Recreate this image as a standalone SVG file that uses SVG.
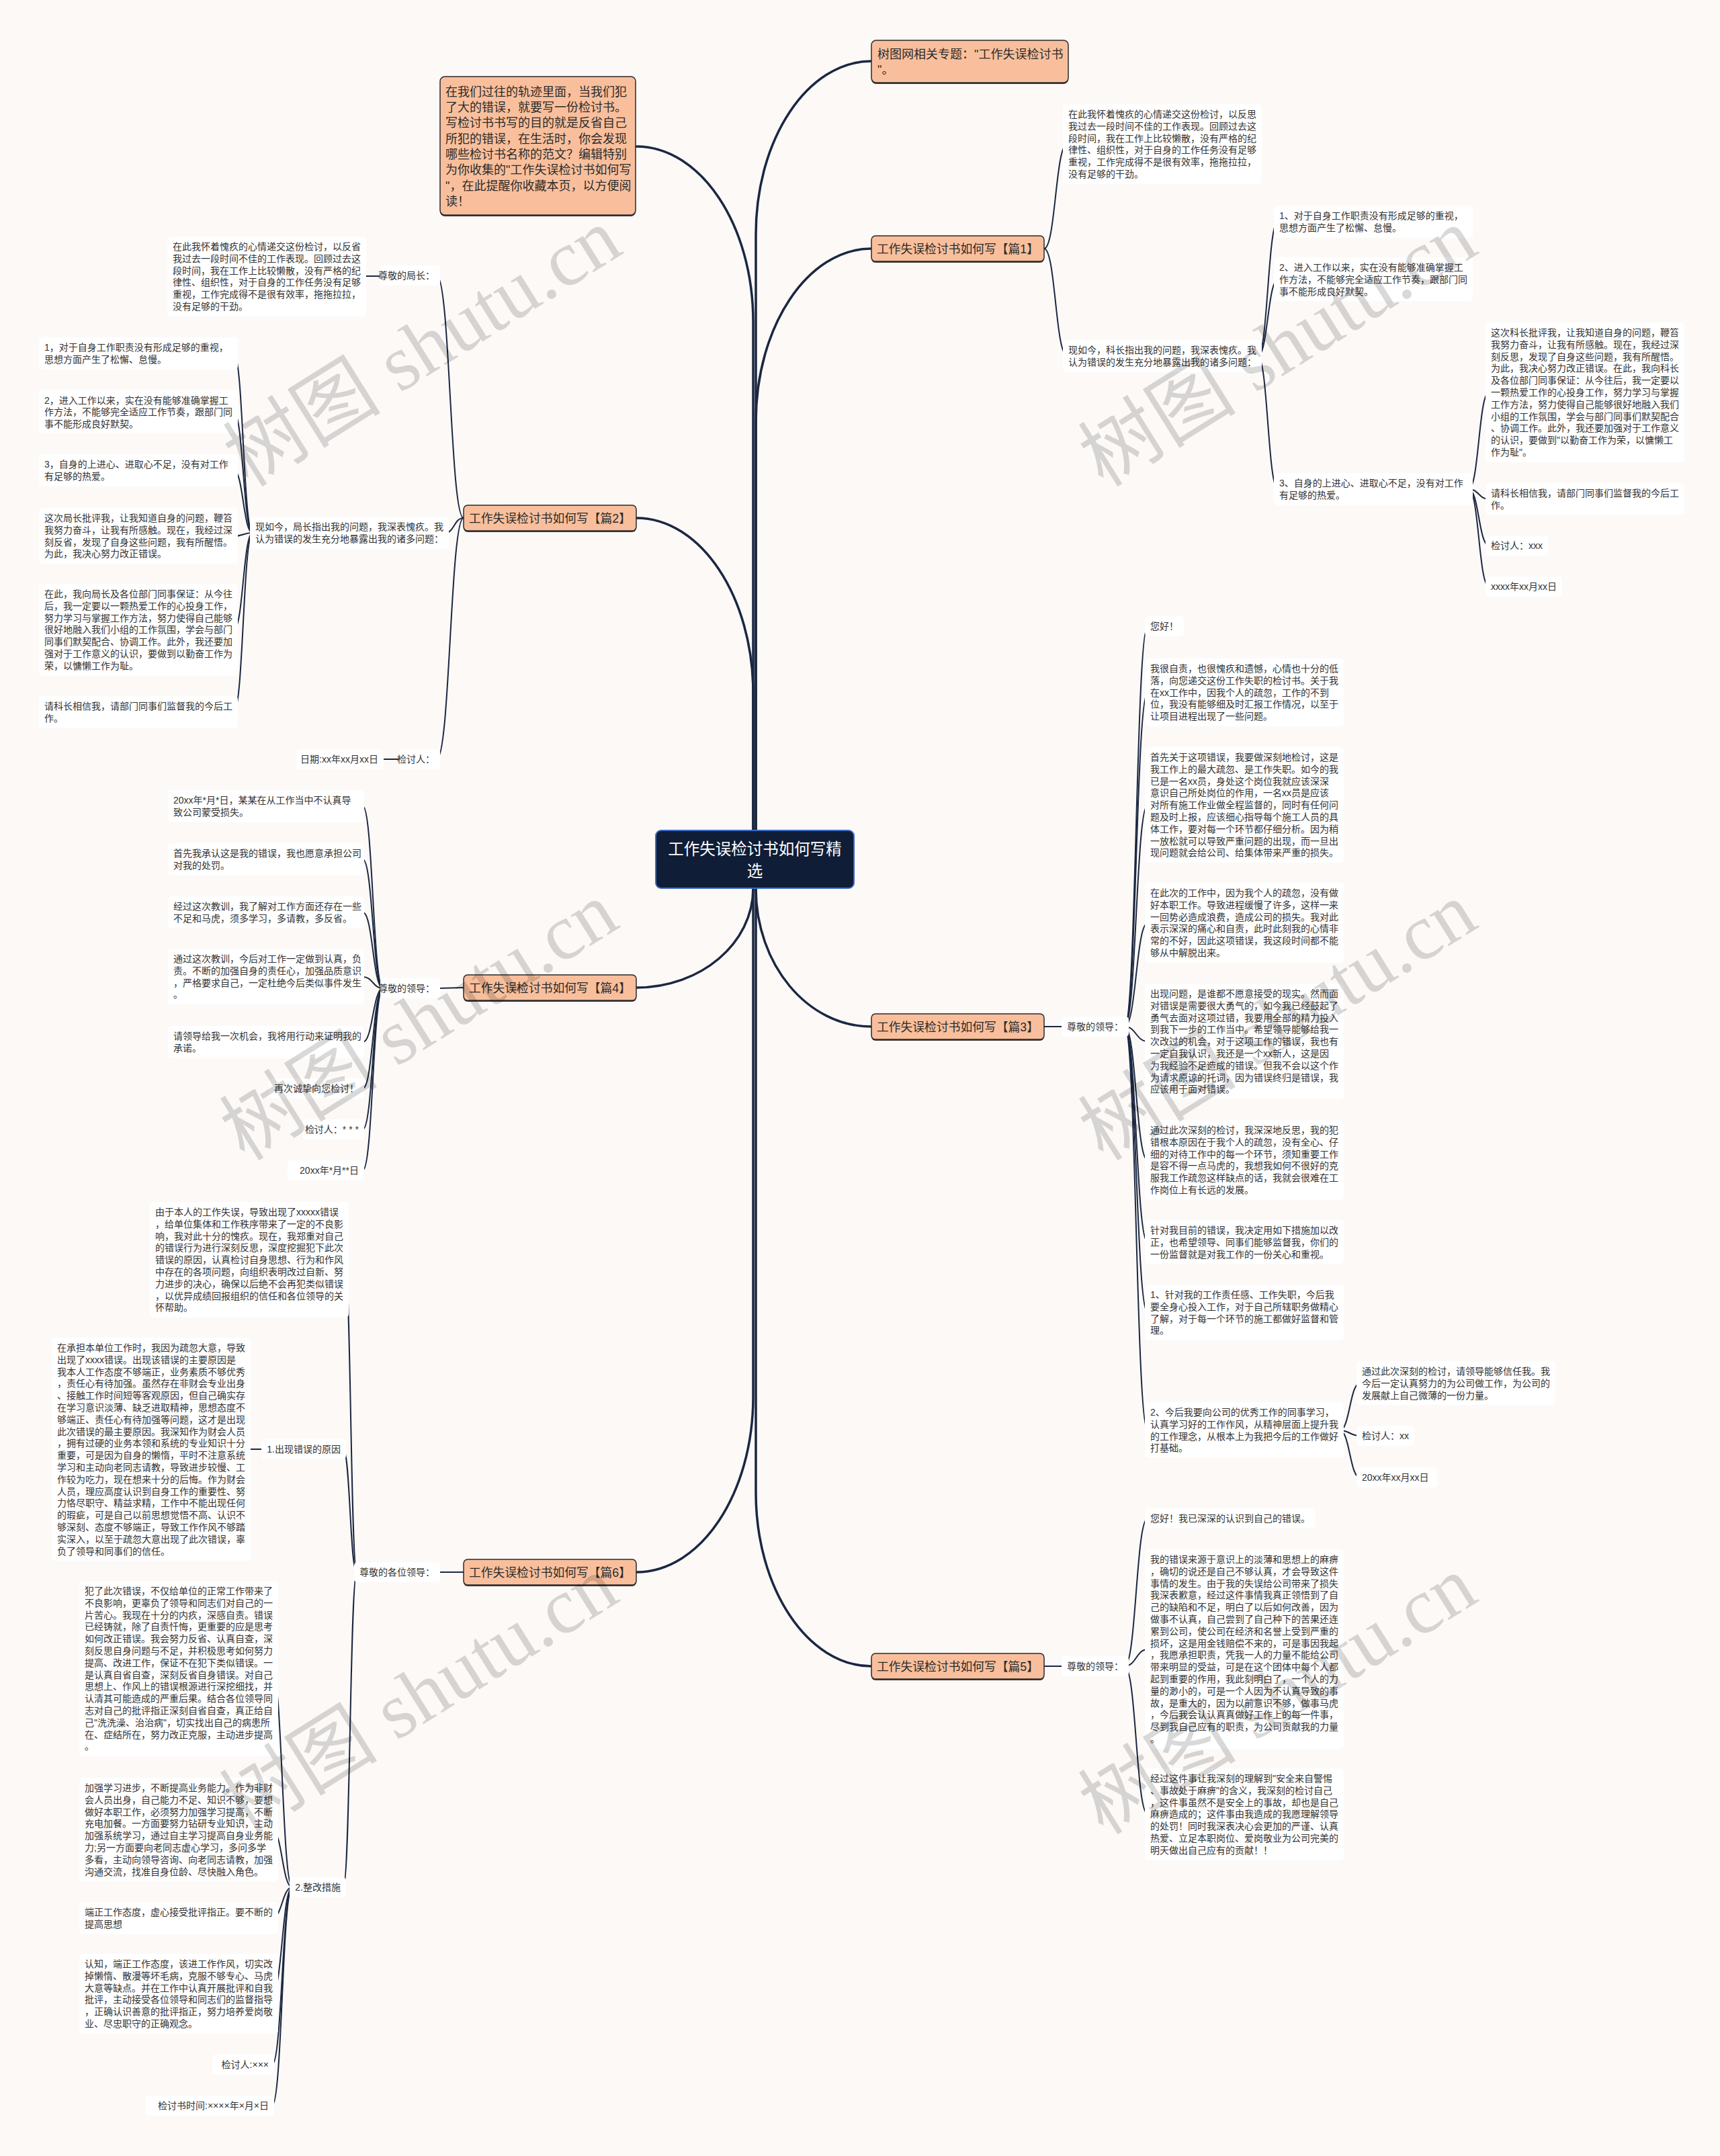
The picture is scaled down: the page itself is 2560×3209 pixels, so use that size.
<svg xmlns="http://www.w3.org/2000/svg" width="2560" height="3209" viewBox="0 0 2560 3209">
<style>
.t{font-family:"Liberation Sans","Noto Sans CJK SC",sans-serif;font-size:14px;fill:#333}
.e{text-anchor:end}
.b{font-family:"Liberation Sans","Noto Sans CJK SC",sans-serif;font-size:17.8px;fill:#2b2b2b;text-anchor:middle}
.i{font-family:"Liberation Sans","Noto Sans CJK SC",sans-serif;font-size:18px;fill:#2b2b2b}
.bx{fill:#f9bf9c;stroke:#2a2a2a;stroke-width:1.5}
.sh{fill:#3a3a3a}
.lf{fill:#ffffff}
.c{fill:none;stroke:#1b2741;stroke-linecap:round}
.m{stroke-width:3.5}
.s{stroke-width:2}
.wm{font-family:"Liberation Serif","Noto Sans CJK SC",serif;font-size:118px;fill:#000;fill-opacity:0.15;text-anchor:middle}
</style>
<rect width="2560" height="3209" fill="#fcf9f7"/>

<g id="connectors">
<path class="c m" d="M1125 1236 L1125 349 C1125 207 1202 91 1297 91"/>
<path class="c m" d="M1125 1236 L1125 628 C1125 486 1202 370 1297 370"/>
<path class="c m" d="M1121 1236 L1121 479 C1121 335 1043 218 947 218"/>
<path class="c m" d="M1121 1236 L1121 1032 C1121 888 1043 771 947 771"/>
<path class="c m" d="M1121 1322 C1121 1404 1043 1470 947 1470"/>
<path class="c m" d="M1125 1322 C1125 1436 1202 1528 1297 1528"/>
<path class="c m" d="M1121 1322 L1121 2079 C1121 2223 1043 2340 947 2340"/>
<path class="c m" d="M1125 1322 L1125 2222 C1125 2364 1202 2480 1297 2480"/>

<path class="c s" d="M1554 370 C1571 370 1571 215 1588 215"/>
<path class="c s" d="M1554 370 C1571 370 1571 529 1588 529"/>
<path class="c s" d="M1872 530 C1887 530 1887 329 1902 329"/>
<path class="c s" d="M1872 530 C1887 530 1887 416 1902 416"/>
<path class="c s" d="M1872 530 C1887 530 1887 728 1902 728"/>
<path class="c s" d="M2186 728 C2201 728 2201 584 2216 584"/>
<path class="c s" d="M2186 728 C2201 728 2201 743 2216 743"/>
<path class="c s" d="M2186 728 C2201 728 2201 812 2216 812"/>
<path class="c s" d="M2186 728 C2201 728 2201 873 2216 873"/>

<path class="c s" d="M1554 1528 L1586 1528"/>
<path class="c s" d="M1674 1528 C1691 1528 1691 932 1708 932"/>
<path class="c s" d="M1674 1528 C1691 1528 1691 1031 1708 1031"/>
<path class="c s" d="M1674 1528 C1691 1528 1691 1198 1708 1198"/>
<path class="c s" d="M1674 1528 C1691 1528 1691 1374 1708 1374"/>
<path class="c s" d="M1674 1528 C1691 1528 1691 1550 1708 1550"/>
<path class="c s" d="M1674 1528 C1691 1528 1691 1727 1708 1727"/>
<path class="c s" d="M1674 1528 C1691 1528 1691 1849 1708 1849"/>
<path class="c s" d="M1674 1528 C1691 1528 1691 1954 1708 1954"/>
<path class="c s" d="M1674 1528 C1691 1528 1691 2129 1708 2129"/>
<path class="c s" d="M1994 2129 C2009 2129 2009 2059 2024 2059"/>
<path class="c s" d="M1994 2129 C2009 2129 2009 2137 2024 2137"/>
<path class="c s" d="M1994 2129 C2009 2129 2009 2199 2024 2199"/>

<path class="c s" d="M1554 2480 L1586 2480"/>
<path class="c s" d="M1674 2480 C1691 2480 1691 2260 1708 2260"/>
<path class="c s" d="M1674 2480 C1691 2480 1691 2455 1708 2455"/>
<path class="c s" d="M1674 2480 C1691 2480 1691 2700 1708 2700"/>

<path class="c s" d="M690 771 C670 771 670 410 650 410"/>
<path class="c s" d="M690 771 C676 771 676 793 663 793"/>
<path class="c s" d="M690 771 C670 771 670 1130 650 1130"/>
<path class="c s" d="M566 411 L541 411"/>
<path class="c s" d="M376 793 C362 793 362 526 348 526"/>
<path class="c s" d="M376 793 C362 793 362 613 348 613"/>
<path class="c s" d="M376 793 C362 793 362 700 348 700"/>
<path class="c s" d="M376 793 C362 793 362 798 348 798"/>
<path class="c s" d="M376 793 C362 793 362 937 348 937"/>
<path class="c s" d="M376 793 C362 793 362 1060 348 1060"/>
<path class="c s" d="M596 1130 L568 1130"/>

<path class="c s" d="M690 1470 L651 1471"/>
<path class="c s" d="M570 1471 C555 1471 555 1200 540 1200"/>
<path class="c s" d="M570 1471 C555 1471 555 1279 540 1279"/>
<path class="c s" d="M570 1471 C555 1471 555 1358 540 1358"/>
<path class="c s" d="M570 1471 C555 1471 555 1454 540 1454"/>
<path class="c s" d="M570 1471 C555 1471 555 1551 540 1551"/>
<path class="c s" d="M570 1471 C555 1471 555 1620 540 1620"/>
<path class="c s" d="M570 1471 C555 1471 555 1681 540 1681"/>
<path class="c s" d="M570 1471 C555 1471 555 1742 540 1742"/>

<path class="c s" d="M690 2340 L651 2340"/>
<path class="c s" d="M531 2340 C522 2340 522 1875 513 1875"/>
<path class="c s" d="M531 2340 C521 2340 521 2157 511 2157"/>
<path class="c s" d="M531 2340 C521 2340 521 2809 511 2809"/>
<path class="c s" d="M394 2157 L368 2157"/>
<path class="c s" d="M435 2809 C420 2809 420 2484 405 2484"/>
<path class="c s" d="M435 2809 C420 2809 420 2723 405 2723"/>
<path class="c s" d="M435 2809 C420 2809 420 2855 405 2855"/>
<path class="c s" d="M435 2809 C420 2809 420 2968 405 2968"/>
<path class="c s" d="M435 2809 C420 2809 420 3073 405 3073"/>
<path class="c s" d="M435 2809 C420 2809 420 3134 405 3134"/>
</g>

<g id="center">
<rect x="976" y="1236" width="295" height="86" rx="8" fill="#0f1d36" stroke="#3d6bc4" stroke-width="2"/>
<text x="1123.5" y="1272" font-family="Liberation Sans,Noto Sans CJK SC,sans-serif" font-size="23.5" fill="#ffffff" text-anchor="middle">工作失误检讨书如何写精</text>
<text x="1123.5" y="1305" font-family="Liberation Sans,Noto Sans CJK SC,sans-serif" font-size="23.5" fill="#ffffff" text-anchor="middle">选</text>
</g>

<g id="topic">
<rect class="sh" x="1297" y="62" width="293" height="63" rx="7"/>
<rect class="bx" x="1297" y="60" width="293" height="63" rx="7"/>
<text class="i" x="1306" y="87">树图网相关专题："工作失误检讨书</text>
<text class="i" x="1306" y="110">"。</text>
</g>

<g id="intro">
<rect class="sh" x="655" y="116" width="291" height="206" rx="7"/>
<rect class="bx" x="655" y="114" width="291" height="206" rx="7"/>
<text class="i" x="663" y="142.5"><tspan x="663" dy="0">在我们过往的轨迹里面，当我们犯</tspan><tspan x="663" dy="23.35">了大的错误，就要写一份检讨书。</tspan><tspan x="663" dy="23.35">写检讨书书写的目的就是反省自己</tspan><tspan x="663" dy="23.35">所犯的错误，在生活时，你会发现</tspan><tspan x="663" dy="23.35">哪些检讨书名称的范文？编辑特别</tspan><tspan x="663" dy="23.35">为你收集的"工作失误检讨书如何写</tspan><tspan x="663" dy="23.35">"，在此提醒你收藏本页，以方便阅</tspan><tspan x="663" dy="23.35">读！</tspan></text>
</g>

<g id="p1">
<rect class="sh" x="1297" y="353" width="257" height="38" rx="6"/>
<rect class="bx" x="1297" y="351" width="257" height="38" rx="6"/>
<text class="b" x="1425.5" y="376.5">工作失误检讨书如何写【篇1】</text>
</g>
<g id="p1a"><rect class="lf" x="1582" y="155" width="296" height="119" rx="5"/>
<text class="t" x="1590" y="175"><tspan x="1590" dy="0">在此我怀着愧疚的心情递交这份检讨，以反思</tspan><tspan x="1590" dy="17.8">我过去一段时间不佳的工作表现。回顾过去这</tspan><tspan x="1590" dy="17.8">段时间，我在工作上比较懒散，没有严格的纪</tspan><tspan x="1590" dy="17.8">律性、组织性，对于自身的工作任务没有足够</tspan><tspan x="1590" dy="17.8">重视，工作完成得不是很有效率，拖拖拉拉，</tspan><tspan x="1590" dy="17.8">没有足够的干劲。</tspan></text></g>
<g id="p1b"><rect class="lf" x="1582" y="506" width="296" height="48" rx="5"/>
<text class="t" x="1590" y="526"><tspan x="1590" dy="0">现如今，科长指出我的问题，我深表愧疚。我</tspan><tspan x="1590" dy="17.8">认为错误的发生充分地暴露出我的诸多问题：</tspan></text></g>
<g id="p1c"><rect class="lf" x="1896" y="306" width="296" height="48" rx="5"/>
<text class="t" x="1904" y="326"><tspan x="1904" dy="0">1、对于自身工作职责没有形成足够的重视，</tspan><tspan x="1904" dy="17.8">思想方面产生了松懈、怠慢。</tspan></text></g>
<g id="p1d"><rect class="lf" x="1896" y="383" width="296" height="65" rx="5"/>
<text class="t" x="1904" y="403"><tspan x="1904" dy="0">2、进入工作以来，实在没有能够准确掌握工</tspan><tspan x="1904" dy="17.8">作方法，不能够完全适应工作节奏，跟部门同</tspan><tspan x="1904" dy="17.8">事不能形成良好默契。</tspan></text></g>
<g id="p1e"><rect class="lf" x="1896" y="704" width="296" height="48" rx="5"/>
<text class="t" x="1904" y="724"><tspan x="1904" dy="0">3、自身的上进心、进取心不足，没有对工作</tspan><tspan x="1904" dy="17.8">有足够的热爱。</tspan></text></g>
<g id="p1f"><rect class="lf" x="2211" y="480" width="296" height="208" rx="5"/>
<text class="t" x="2219" y="500"><tspan x="2219" dy="0">这次科长批评我，让我知道自身的问题，鞭笞</tspan><tspan x="2219" dy="17.8">我努力奋斗，让我有所感触。现在，我经过深</tspan><tspan x="2219" dy="17.8">刻反思，发现了自身这些问题，我有所醒悟。</tspan><tspan x="2219" dy="17.8">为此，我决心努力改正错误。在此，我向科长</tspan><tspan x="2219" dy="17.8">及各位部门同事保证：从今往后，我一定要以</tspan><tspan x="2219" dy="17.8">一颗热爱工作的心投身工作，努力学习与掌握</tspan><tspan x="2219" dy="17.8">工作方法，努力使得自己能够很好地融入我们</tspan><tspan x="2219" dy="17.8">小组的工作氛围，学会与部门同事们默契配合</tspan><tspan x="2219" dy="17.8">、协调工作。此外，我还要加强对于工作意义</tspan><tspan x="2219" dy="17.8">的认识，要做到"以勤奋工作为荣，以慵懒工</tspan><tspan x="2219" dy="17.8">作为耻"。</tspan></text></g>
<g id="p1g"><rect class="lf" x="2211" y="719" width="296" height="48" rx="5"/>
<text class="t" x="2219" y="739"><tspan x="2219" dy="0">请科长相信我，请部门同事们监督我的今后工</tspan><tspan x="2219" dy="17.8">作。</tspan></text></g>
<g id="p1h"><rect class="lf" x="2211" y="797" width="93" height="30" rx="5"/>
<text class="t" x="2219" y="817">检讨人：xxx</text></g>
<g id="p1i"><rect class="lf" x="2211" y="858" width="114" height="30" rx="5"/>
<text class="t" x="2219" y="878">xxxx年xx月xx日</text></g>

<g id="p3">
<rect class="sh" x="1297" y="1511" width="257" height="38" rx="6"/>
<rect class="bx" x="1297" y="1509" width="257" height="38" rx="6"/>
<text class="b" x="1425.5" y="1534.5">工作失误检讨书如何写【篇3】</text>
</g>
<g id="p3h"><rect class="lf" x="1580" y="1513" width="100" height="30" rx="5"/>
<text class="t" x="1588" y="1533">尊敬的领导：</text></g>
<g id="p3a"><rect class="lf" x="1704" y="917" width="58" height="30" rx="5"/>
<text class="t" x="1712" y="937">您好！</text></g>
<g id="p3b"><rect class="lf" x="1704" y="980" width="296" height="101" rx="5"/>
<text class="t" x="1712" y="1000"><tspan x="1712" dy="0">我很自责，也很愧疚和遗憾，心情也十分的低</tspan><tspan x="1712" dy="17.8">落，向您递交这份工作失职的检讨书。关于我</tspan><tspan x="1712" dy="17.8">在xx工作中，因我个人的疏忽，工作的不到</tspan><tspan x="1712" dy="17.8">位，我没有能够细及时汇报工作情况，以至于</tspan><tspan x="1712" dy="17.8">让项目进程出现了一些问题。</tspan></text></g>
<g id="p3c"><rect class="lf" x="1704" y="1112" width="296" height="172" rx="5"/>
<text class="t" x="1712" y="1132"><tspan x="1712" dy="0">首先关于这项错误，我要做深刻地检讨，这是</tspan><tspan x="1712" dy="17.8">我工作上的最大疏忽、是工作失职。如今的我</tspan><tspan x="1712" dy="17.8">已是一名xx员，身处这个岗位我就应该深深</tspan><tspan x="1712" dy="17.8">意识自己所处岗位的作用，一名xx员是应该</tspan><tspan x="1712" dy="17.8">对所有施工作业做全程监督的，同时有任何问</tspan><tspan x="1712" dy="17.8">题及时上报，应该细心指导每个施工人员的具</tspan><tspan x="1712" dy="17.8">体工作，要对每一个环节都仔细分析。因为稍</tspan><tspan x="1712" dy="17.8">一放松就可以导致严重问题的出现，而一旦出</tspan><tspan x="1712" dy="17.8">现问题就会给公司、给集体带来严重的损失。</tspan></text></g>
<g id="p3d"><rect class="lf" x="1704" y="1314" width="296" height="119" rx="5"/>
<text class="t" x="1712" y="1334"><tspan x="1712" dy="0">在此次的工作中，因为我个人的疏忽，没有做</tspan><tspan x="1712" dy="17.8">好本职工作。导致进程缓慢了许多，这样一来</tspan><tspan x="1712" dy="17.8">一回势必造成浪费，造成公司的损失。我对此</tspan><tspan x="1712" dy="17.8">表示深深的痛心和自责，此时此刻我的心情非</tspan><tspan x="1712" dy="17.8">常的不好，因此这项错误，我这段时间都不能</tspan><tspan x="1712" dy="17.8">够从中解脱出来。</tspan></text></g>
<g id="p3e"><rect class="lf" x="1704" y="1464" width="296" height="172" rx="5"/>
<text class="t" x="1712" y="1484"><tspan x="1712" dy="0">出现问题，是谁都不愿意接受的现实。然而面</tspan><tspan x="1712" dy="17.8">对错误是需要很大勇气的，如今我已经鼓起了</tspan><tspan x="1712" dy="17.8">勇气去面对这项过错，我要用全部的精力投入</tspan><tspan x="1712" dy="17.8">到我下一步的工作当中。希望领导能够给我一</tspan><tspan x="1712" dy="17.8">次改过的机会，对于这项工作的错误，我也有</tspan><tspan x="1712" dy="17.8">一定自我认识，我还是一个xx新人，这是因</tspan><tspan x="1712" dy="17.8">为我经验不足造成的错误。但我不会以这个作</tspan><tspan x="1712" dy="17.8">为请求原谅的托词，因为错误终归是错误，我</tspan><tspan x="1712" dy="17.8">应该用于面对错误。</tspan></text></g>
<g id="p3f"><rect class="lf" x="1704" y="1667" width="296" height="119" rx="5"/>
<text class="t" x="1712" y="1687"><tspan x="1712" dy="0">通过此次深刻的检讨，我深深地反思，我的犯</tspan><tspan x="1712" dy="17.8">错根本原因在于我个人的疏忽，没有全心、仔</tspan><tspan x="1712" dy="17.8">细的对待工作中的每一个环节，须知重要工作</tspan><tspan x="1712" dy="17.8">是容不得一点马虎的，我想我如何不很好的克</tspan><tspan x="1712" dy="17.8">服我工作疏忽这样缺点的话，我就会很难在工</tspan><tspan x="1712" dy="17.8">作岗位上有长远的发展。</tspan></text></g>
<g id="p3g"><rect class="lf" x="1704" y="1816" width="296" height="65" rx="5"/>
<text class="t" x="1712" y="1836"><tspan x="1712" dy="0">针对我目前的错误，我决定用如下措施加以改</tspan><tspan x="1712" dy="17.8">正，也希望领导、同事们能够监督我，你们的</tspan><tspan x="1712" dy="17.8">一份监督就是对我工作的一份关心和重视。</tspan></text></g>
<g id="p3i"><rect class="lf" x="1704" y="1912" width="296" height="83" rx="5"/>
<text class="t" x="1712" y="1932"><tspan x="1712" dy="0">1、针对我的工作责任感、工作失职，今后我</tspan><tspan x="1712" dy="17.8">要全身心投入工作，对于自己所辖职务做精心</tspan><tspan x="1712" dy="17.8">了解，对于每一个环节的施工都做好监督和管</tspan><tspan x="1712" dy="17.8">理。</tspan></text></g>
<g id="p3j"><rect class="lf" x="1704" y="2087" width="296" height="83" rx="5"/>
<text class="t" x="1712" y="2107"><tspan x="1712" dy="0">2、今后我要向公司的优秀工作的同事学习，</tspan><tspan x="1712" dy="17.8">认真学习好的工作作风，从精神层面上提升我</tspan><tspan x="1712" dy="17.8">的工作理念，从根本上为我把今后的工作做好</tspan><tspan x="1712" dy="17.8">打基础。</tspan></text></g>
<g id="p3k"><rect class="lf" x="2019" y="2026" width="296" height="65" rx="5"/>
<text class="t" x="2027" y="2046"><tspan x="2027" dy="0">通过此次深刻的检讨，请领导能够信任我。我</tspan><tspan x="2027" dy="17.8">今后一定认真努力的为公司做工作，为公司的</tspan><tspan x="2027" dy="17.8">发展献上自己微薄的一份力量。</tspan></text></g>
<g id="p3l"><rect class="lf" x="2019" y="2122" width="86" height="30" rx="5"/>
<text class="t" x="2027" y="2142">检讨人：xx</text></g>
<g id="p3m"><rect class="lf" x="2019" y="2184" width="120" height="30" rx="5"/>
<text class="t" x="2027" y="2204">20xx年xx月xx日</text></g>

<g id="p5">
<rect class="sh" x="1297" y="2463" width="257" height="38" rx="6"/>
<rect class="bx" x="1297" y="2461" width="257" height="38" rx="6"/>
<text class="b" x="1425.5" y="2486.5">工作失误检讨书如何写【篇5】</text>
</g>
<g id="p5h"><rect class="lf" x="1580" y="2465" width="100" height="30" rx="5"/>
<text class="t" x="1588" y="2485">尊敬的领导：</text></g>
<g id="p5a"><rect class="lf" x="1704" y="2245" width="254" height="30" rx="5"/>
<text class="t" x="1712" y="2265">您好！我已深深的认识到自己的错误。</text></g>
<g id="p5b"><rect class="lf" x="1704" y="2306" width="296" height="297" rx="5"/>
<text class="t" x="1712" y="2326"><tspan x="1712" dy="0">我的错误来源于意识上的淡薄和思想上的麻痹</tspan><tspan x="1712" dy="17.8">，确切的说还是自己不够认真，才会导致这件</tspan><tspan x="1712" dy="17.8">事情的发生。由于我的失误给公司带来了损失</tspan><tspan x="1712" dy="17.8">我深表歉意，经过这件事情我真正领悟到了自</tspan><tspan x="1712" dy="17.8">己的缺陷和不足，明白了以后如何改善，因为</tspan><tspan x="1712" dy="17.8">做事不认真，自己尝到了自己种下的苦果还连</tspan><tspan x="1712" dy="17.8">累到公司，使公司在经济和名誉上受到严重的</tspan><tspan x="1712" dy="17.8">损坏，这是用金钱赔偿不来的，可是事因我起</tspan><tspan x="1712" dy="17.8">，我愿承担职责，凭我一人的力量不能给公司</tspan><tspan x="1712" dy="17.8">带来明显的受益，可是在这个团体中每个人都</tspan><tspan x="1712" dy="17.8">起到重要的作用，我此刻明白了，一个人的力</tspan><tspan x="1712" dy="17.8">量的渺小的，可是一个人因为不认真导致的事</tspan><tspan x="1712" dy="17.8">故，是重大的，因为以前意识不够，做事马虎</tspan><tspan x="1712" dy="17.8">，今后我会认认真真做好工作上的每一件事，</tspan><tspan x="1712" dy="17.8">尽到我自己应有的职责，为公司贡献我的力量</tspan><tspan x="1712" dy="17.8">。</tspan></text></g>
<g id="p5c"><rect class="lf" x="1704" y="2632" width="296" height="137" rx="5"/>
<text class="t" x="1712" y="2652"><tspan x="1712" dy="0">经过这件事让我深刻的理解到"安全来自警惕</tspan><tspan x="1712" dy="17.8">、事故处于麻痹"的含义，我深刻的检讨自己</tspan><tspan x="1712" dy="17.8">，这件事虽然不是安全上的事故，却也是自己</tspan><tspan x="1712" dy="17.8">麻痹造成的；这件事由我造成的我愿理解领导</tspan><tspan x="1712" dy="17.8">的处罚！同时我深表决心会更加的严谨、认真</tspan><tspan x="1712" dy="17.8">热爱、立足本职岗位、爱岗敬业为公司完美的</tspan><tspan x="1712" dy="17.8">明天做出自己应有的贡献！！</tspan></text></g>

<g id="p2">
<rect class="sh" x="690" y="754" width="257" height="38" rx="6"/>
<rect class="bx" x="690" y="752" width="257" height="38" rx="6"/>
<text class="b" x="818.5" y="777.5">工作失误检讨书如何写【篇2】</text>
</g>
<g id="p2h"><rect class="lf" x="565" y="395" width="90" height="30" rx="5"/>
<text class="t e" x="647" y="415">尊敬的局长：</text></g>
<g id="p2a"><rect class="lf" x="249" y="352" width="296" height="119" rx="5"/>
<text class="t" x="257" y="372"><tspan x="257" dy="0">在此我怀着愧疚的心情递交这份检讨，以反省</tspan><tspan x="257" dy="17.8">我过去一段时间不佳的工作表现。回顾过去这</tspan><tspan x="257" dy="17.8">段时间，我在工作上比较懒散，没有严格的纪</tspan><tspan x="257" dy="17.8">律性、组织性，对于自身的工作任务没有足够</tspan><tspan x="257" dy="17.8">重视，工作完成得不是很有效率，拖拖拉拉，</tspan><tspan x="257" dy="17.8">没有足够的干劲。</tspan></text></g>
<g id="p2b"><rect class="lf" x="372" y="769" width="296" height="48" rx="5"/>
<text class="t" x="380" y="789"><tspan x="380" dy="0">现如今，局长指出我的问题，我深表愧疚。我</tspan><tspan x="380" dy="17.8">认为错误的发生充分地暴露出我的诸多问题：</tspan></text></g>
<g id="p2c"><rect class="lf" x="58" y="502" width="296" height="48" rx="5"/>
<text class="t" x="66" y="522"><tspan x="66" dy="0">1，对于自身工作职责没有形成足够的重视，</tspan><tspan x="66" dy="17.8">思想方面产生了松懈、怠慢。</tspan></text></g>
<g id="p2d"><rect class="lf" x="58" y="580" width="296" height="65" rx="5"/>
<text class="t" x="66" y="600.5"><tspan x="66" dy="0">2，进入工作以来，实在没有能够准确掌握工</tspan><tspan x="66" dy="17.8">作方法，不能够完全适应工作节奏，跟部门同</tspan><tspan x="66" dy="17.8">事不能形成良好默契。</tspan></text></g>
<g id="p2e"><rect class="lf" x="58" y="676" width="296" height="48" rx="5"/>
<text class="t" x="66" y="696"><tspan x="66" dy="0">3，自身的上进心、进取心不足，没有对工作</tspan><tspan x="66" dy="17.8">有足够的热爱。</tspan></text></g>
<g id="p2f"><rect class="lf" x="58" y="756" width="296" height="83" rx="5"/>
<text class="t" x="66" y="776"><tspan x="66" dy="0">这次局长批评我，让我知道自身的问题，鞭笞</tspan><tspan x="66" dy="17.8">我努力奋斗，让我有所感触。现在，我经过深</tspan><tspan x="66" dy="17.8">刻反省，发现了自身这些问题，我有所醒悟。</tspan><tspan x="66" dy="17.8">为此，我决心努力改正错误。</tspan></text></g>
<g id="p2g"><rect class="lf" x="58" y="869" width="296" height="137" rx="5"/>
<text class="t" x="66" y="889"><tspan x="66" dy="0">在此，我向局长及各位部门同事保证：从今往</tspan><tspan x="66" dy="17.8">后，我一定要以一颗热爱工作的心投身工作，</tspan><tspan x="66" dy="17.8">努力学习与掌握工作方法，努力使得自己能够</tspan><tspan x="66" dy="17.8">很好地融入我们小组的工作氛围，学会与部门</tspan><tspan x="66" dy="17.8">同事们默契配合、协调工作。此外，我还要加</tspan><tspan x="66" dy="17.8">强对于工作意义的认识，要做到以勤奋工作为</tspan><tspan x="66" dy="17.8">荣，以慵懒工作为耻。</tspan></text></g>
<g id="p2i"><rect class="lf" x="58" y="1036" width="296" height="48" rx="5"/>
<text class="t" x="66" y="1056"><tspan x="66" dy="0">请科长相信我，请部门同事们监督我的今后工</tspan><tspan x="66" dy="17.8">作。</tspan></text></g>
<g id="p2j"><rect class="lf" x="593" y="1115" width="62" height="30" rx="5"/>
<text class="t e" x="647" y="1135">检讨人：</text></g>
<g id="p2k"><rect class="lf" x="441" y="1115" width="130" height="30" rx="5"/>
<text class="t e" x="563" y="1135">日期:xx年xx月xx日</text></g>

<g id="p4">
<rect class="sh" x="690" y="1453" width="257" height="38" rx="6"/>
<rect class="bx" x="690" y="1451" width="257" height="38" rx="6"/>
<text class="b" x="818.5" y="1476.5">工作失误检讨书如何写【篇4】</text>
</g>
<g id="p4h"><rect class="lf" x="566" y="1456" width="89" height="30" rx="5"/>
<text class="t e" x="647" y="1476">尊敬的领导：</text></g>
<g id="p4a"><rect class="lf" x="250" y="1176" width="292" height="48" rx="5"/>
<text class="t" x="258" y="1196"><tspan x="258" dy="0">20xx年*月*日，某某在从工作当中不认真导</tspan><tspan x="258" dy="17.8">致公司蒙受损失。</tspan></text></g>
<g id="p4b"><rect class="lf" x="250" y="1255" width="292" height="48" rx="5"/>
<text class="t" x="258" y="1275"><tspan x="258" dy="0">首先我承认这是我的错误，我也愿意承担公司</tspan><tspan x="258" dy="17.8">对我的处罚。</tspan></text></g>
<g id="p4c"><rect class="lf" x="250" y="1334" width="292" height="48" rx="5"/>
<text class="t" x="258" y="1354"><tspan x="258" dy="0">经过这次教训，我了解对工作方面还存在一些</tspan><tspan x="258" dy="17.8">不足和马虎，须多学习，多请教，多反省。</tspan></text></g>
<g id="p4d"><rect class="lf" x="250" y="1412" width="292" height="83" rx="5"/>
<text class="t" x="258" y="1432"><tspan x="258" dy="0">通过这次教训，今后对工作一定做到认真，负</tspan><tspan x="258" dy="17.8">责。不断的加强自身的责任心，加强品质意识</tspan><tspan x="258" dy="17.8">，严格要求自己，一定杜绝今后类似事件发生</tspan><tspan x="258" dy="17.8">。</tspan></text></g>
<g id="p4e"><rect class="lf" x="250" y="1527" width="292" height="48" rx="5"/>
<text class="t" x="258" y="1547"><tspan x="258" dy="0">请领导给我一次机会，我将用行动来证明我的</tspan><tspan x="258" dy="17.8">承诺。</tspan></text></g>
<g id="p4f"><rect class="lf" x="400" y="1605" width="142" height="30" rx="5"/>
<text class="t e" x="534" y="1625">再次诚挚向您检讨！</text></g>
<g id="p4g"><rect class="lf" x="450" y="1666" width="92" height="30" rx="5"/>
<text class="t e" x="534" y="1686">检讨人：* * *</text></g>
<g id="p4i"><rect class="lf" x="428" y="1727" width="114" height="30" rx="5"/>
<text class="t e" x="534" y="1747">20xx年*月**日</text></g>

<g id="p6">
<rect class="sh" x="690" y="2323" width="257" height="38" rx="6"/>
<rect class="bx" x="690" y="2321" width="257" height="38" rx="6"/>
<text class="b" x="818.5" y="2346.5">工作失误检讨书如何写【篇6】</text>
</g>
<g id="p6h"><rect class="lf" x="527" y="2325" width="128" height="30" rx="5"/>
<text class="t e" x="647" y="2345">尊敬的各位领导：</text></g>
<g id="p6a"><rect class="lf" x="223" y="1789" width="296" height="172" rx="5"/>
<text class="t" x="231" y="1809"><tspan x="231" dy="0">由于本人的工作失误，导致出现了xxxxx错误</tspan><tspan x="231" dy="17.8">，给单位集体和工作秩序带来了一定的不良影</tspan><tspan x="231" dy="17.8">响，我对此十分的愧疚。现在，我郑重对自己</tspan><tspan x="231" dy="17.8">的错误行为进行深刻反思，深度挖掘犯下此次</tspan><tspan x="231" dy="17.8">错误的原因，认真检讨自身思想、行为和作风</tspan><tspan x="231" dy="17.8">中存在的各项问题，向组织表明改过自新、努</tspan><tspan x="231" dy="17.8">力进步的决心，确保以后绝不会再犯类似错误</tspan><tspan x="231" dy="17.8">，以优异成绩回报组织的信任和各位领导的关</tspan><tspan x="231" dy="17.8">怀帮助。</tspan></text></g>
<g id="p6b"><rect class="lf" x="389" y="2142" width="126" height="30" rx="5"/>
<text class="t e" x="507" y="2162">1.出现错误的原因</text></g>
<g id="p6c"><rect class="lf" x="77" y="1991" width="296" height="332" rx="5"/>
<text class="t" x="85" y="2011"><tspan x="85" dy="0">在承担本单位工作时，我因为疏忽大意，导致</tspan><tspan x="85" dy="17.8">出现了xxxx错误。出现该错误的主要原因是</tspan><tspan x="85" dy="17.8">我本人工作态度不够端正，业务素质不够优秀</tspan><tspan x="85" dy="17.8">，责任心有待加强。虽然存在非财会专业出身</tspan><tspan x="85" dy="17.8">、接触工作时间短等客观原因，但自己确实存</tspan><tspan x="85" dy="17.8">在学习意识淡薄、缺乏进取精神，思想态度不</tspan><tspan x="85" dy="17.8">够端正、责任心有待加强等问题，这才是出现</tspan><tspan x="85" dy="17.8">此次错误的最主要原因。我深知作为财会人员</tspan><tspan x="85" dy="17.8">，拥有过硬的业务本领和系统的专业知识十分</tspan><tspan x="85" dy="17.8">重要，可是因为自身的懒惰，平时不注意系统</tspan><tspan x="85" dy="17.8">学习和主动向老同志请教，导致进步较慢、工</tspan><tspan x="85" dy="17.8">作较为吃力，现在想来十分的后悔。作为财会</tspan><tspan x="85" dy="17.8">人员，理应高度认识到自身工作的重要性、努</tspan><tspan x="85" dy="17.8">力恪尽职守、精益求精，工作中不能出现任何</tspan><tspan x="85" dy="17.8">的瑕疵，可是自己以前思想觉悟不高、认识不</tspan><tspan x="85" dy="17.8">够深刻、态度不够端正，导致工作作风不够踏</tspan><tspan x="85" dy="17.8">实深入，以至于疏忽大意出现了此次错误，辜</tspan><tspan x="85" dy="17.8">负了领导和同事们的信任。</tspan></text></g>
<g id="p6d"><rect class="lf" x="431" y="2794" width="84" height="30" rx="5"/>
<text class="t e" x="507" y="2814">2.整改措施</text></g>
<g id="p6e"><rect class="lf" x="118" y="2353" width="296" height="261" rx="5"/>
<text class="t" x="126" y="2373"><tspan x="126" dy="0">犯了此次错误，不仅给单位的正常工作带来了</tspan><tspan x="126" dy="17.8">不良影响，更辜负了领导和同志们对自己的一</tspan><tspan x="126" dy="17.8">片苦心。我现在十分的内疚，深感自责。错误</tspan><tspan x="126" dy="17.8">已经铸就，除了自责忏悔，更重要的应是思考</tspan><tspan x="126" dy="17.8">如何改正错误。我会努力反省、认真自查，深</tspan><tspan x="126" dy="17.8">刻反思自身问题与不足，并积极思考如何努力</tspan><tspan x="126" dy="17.8">提高、改进工作，保证不在犯下类似错误。一</tspan><tspan x="126" dy="17.8">是认真自省自查，深刻反省自身错误。对自己</tspan><tspan x="126" dy="17.8">思想上、作风上的错误根源进行深挖细找，并</tspan><tspan x="126" dy="17.8">认清其可能造成的严重后果。结合各位领导同</tspan><tspan x="126" dy="17.8">志对自己的批评指正深刻自省自查，真正给自</tspan><tspan x="126" dy="17.8">己"洗洗澡、治治病"，切实找出自己的病患所</tspan><tspan x="126" dy="17.8">在、症结所在，努力改正克服，主动进步提高</tspan><tspan x="126" dy="17.8">。</tspan></text></g>
<g id="p6f"><rect class="lf" x="118" y="2646" width="296" height="154" rx="5"/>
<text class="t" x="126" y="2666"><tspan x="126" dy="0">加强学习进步，不断提高业务能力。作为非财</tspan><tspan x="126" dy="17.8">会人员出身，自己能力不足、知识不够，要想</tspan><tspan x="126" dy="17.8">做好本职工作，必须努力加强学习提高，不断</tspan><tspan x="126" dy="17.8">充电加餐。一方面要努力钻研专业知识，主动</tspan><tspan x="126" dy="17.8">加强系统学习，通过自主学习提高自身业务能</tspan><tspan x="126" dy="17.8">力;另一方面要向老同志虚心学习，多问多学</tspan><tspan x="126" dy="17.8">多看，主动向领导咨询、向老同志请教，加强</tspan><tspan x="126" dy="17.8">沟通交流，找准自身位龄、尽快融入角色。</tspan></text></g>
<g id="p6g"><rect class="lf" x="118" y="2831" width="296" height="48" rx="5"/>
<text class="t" x="126" y="2851"><tspan x="126" dy="0">端正工作态度，虚心接受批评指正。要不断的</tspan><tspan x="126" dy="17.8">提高思想</tspan></text></g>
<g id="p6i"><rect class="lf" x="118" y="2908" width="296" height="119" rx="5"/>
<text class="t" x="126" y="2928"><tspan x="126" dy="0">认知，端正工作态度，该进工作作风，切实改</tspan><tspan x="126" dy="17.8">掉懒惰、散漫等坏毛病，克服不够专心、马虎</tspan><tspan x="126" dy="17.8">大意等缺点。并在工作中认真开展批评和自我</tspan><tspan x="126" dy="17.8">批评，主动接受各位领导和同志们的监督指导</tspan><tspan x="126" dy="17.8">，正确认识善意的批评指正，努力培养爱岗敬</tspan><tspan x="126" dy="17.8">业、尽忠职守的正确观念。</tspan></text></g>
<g id="p6j"><rect class="lf" x="316" y="3058" width="92" height="30" rx="5"/>
<text class="t e" x="400" y="3078">检讨人:×××</text></g>
<g id="p6k"><rect class="lf" x="216" y="3119" width="192" height="30" rx="5"/>
<text class="t e" x="400" y="3139">检讨书时间:××××年×月×日</text></g>

<g id="watermarks">
<text class="wm" transform="translate(650 551) rotate(-32)">树图 shutu.cn</text>
<text class="wm" transform="translate(1923 551) rotate(-32)">树图 shutu.cn</text>
<text class="wm" transform="translate(645 1554) rotate(-32)">树图 shutu.cn</text>
<text class="wm" transform="translate(1923 1554) rotate(-32)">树图 shutu.cn</text>
<text class="wm" transform="translate(645 2557) rotate(-32)">树图 shutu.cn</text>
<text class="wm" transform="translate(1923 2557) rotate(-32)">树图 shutu.cn</text>
</g>
</svg>
